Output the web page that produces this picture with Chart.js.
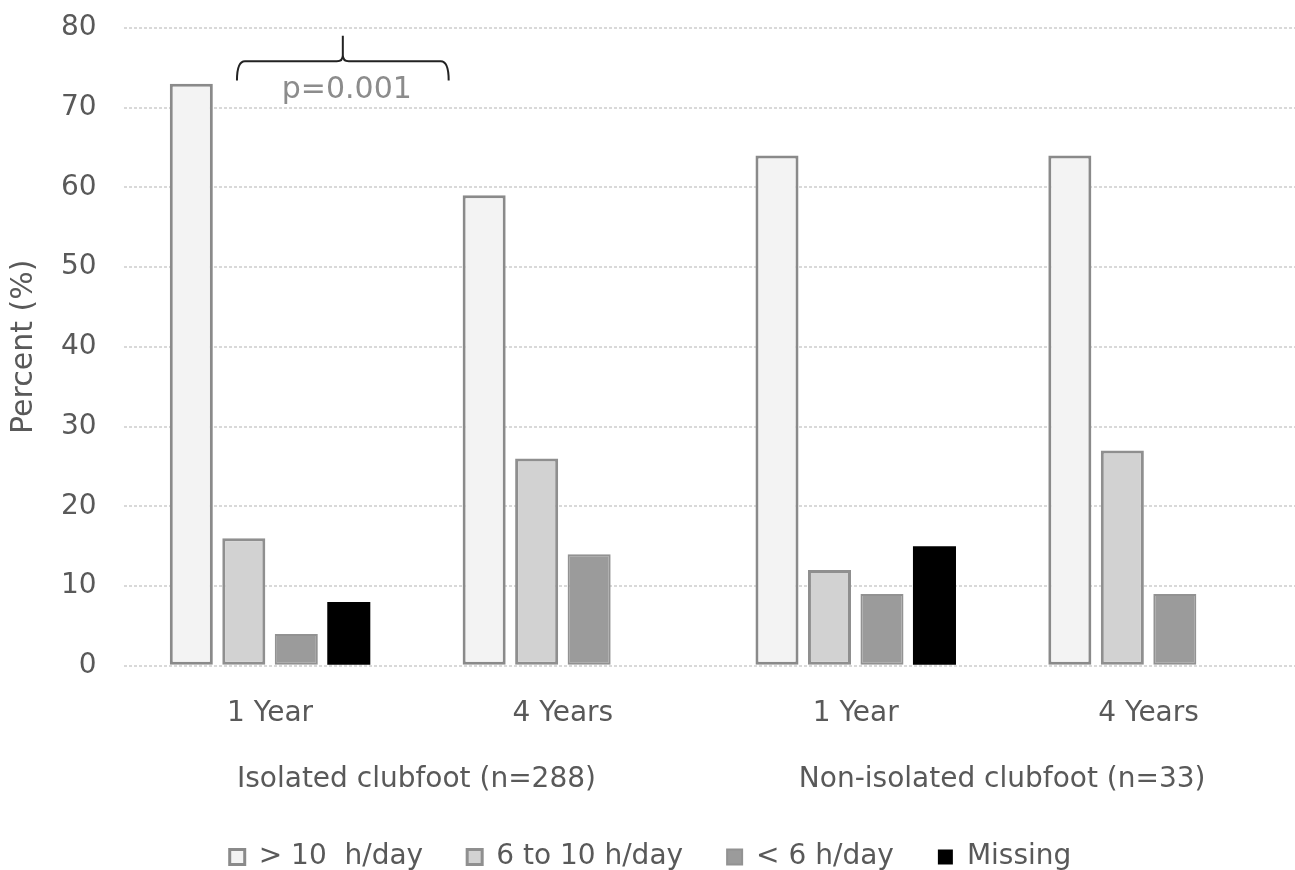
<!DOCTYPE html>
<html>
<head>
<meta charset="utf-8">
<script src="https://cdn.jsdelivr.net/npm/chart.js@4/dist/chart.umd.min.js"></script>
<style>
  html, body { margin: 0; padding: 0; background: #fff; }
  #wrap { width: 1295px; height: 870px; }
</style>
</head>
<body>
<div id="wrap"><canvas id="chart"></canvas></div>
<script>
// ================= DATA =================
const timepoints = ["1 Year", "4 Years", "1 Year", "4 Years"];
const groups = ["Isolated clubfoot (n=288)", "Non-isolated clubfoot (n=33)"];
const over10 = [73, 59, 64, 64];
const from6to10 = [16, 26, 12, 27];
const under6 = [4, 14, 9, 9];
const missing = [8, null, 15, null];
const yTicks = [0, 10, 20, 30, 40, 50, 60, 70, 80];
const pLabel = "p=0.001";

const FONT = "'DejaVu Sans', sans-serif";
const TEXT = "#595959";

// ================= BRACKET PLUGIN =================
const bracketPlugin = {
  id: "bracket",
  afterDatasetsDraw(chart) {
    const { ctx, scales } = chart;
    const x = scales.x, y = scales.y;
    const c0 = x.getPixelForValue(0);
    const w = x.getPixelForValue(1) - c0;
    const left = c0 - 0.113 * w;
    const right = c0 + 0.61 * w;
    const mid = (left + right) / 2;
    const yBar = y.getPixelForValue(75.8);
    const yEnd = y.getPixelForValue(73.4);
    const yTop = y.getPixelForValue(79.0);

    ctx.save();
    ctx.strokeStyle = "#222";
    ctx.lineWidth = 2;
    ctx.beginPath();
    ctx.moveTo(left, yEnd);
    ctx.quadraticCurveTo(left, yBar, left + 8, yBar);
    ctx.lineTo(mid - 6, yBar);
    ctx.quadraticCurveTo(mid, yBar, mid, yBar - 6);
    ctx.lineTo(mid, yTop);
    ctx.moveTo(mid, yBar - 6);
    ctx.quadraticCurveTo(mid, yBar, mid + 6, yBar);
    ctx.lineTo(right - 8, yBar);
    ctx.quadraticCurveTo(right, yBar, right, yEnd);
    ctx.stroke();

    ctx.fillStyle = "#8c8c8c";
    ctx.font = "30px " + FONT;
    ctx.textAlign = "center";
    ctx.textBaseline = "middle";
    ctx.fillText(pLabel, mid + 4, y.getPixelForValue(72.2));
    ctx.restore();
  }
};

// ================= CHART =================
function series(label, data, fill, border, bw) {
  return {
    label,
    data,
    backgroundColor: fill,
    borderColor: border,
    borderWidth: bw,
    borderSkipped: false,
    categoryPercentage: 0.717,
    barPercentage: 0.82
  };
}

const ctx = document.getElementById("chart").getContext("2d");
new Chart(ctx, {
  type: "bar",
  data: {
    labels: timepoints,
    datasets: [
      series("> 10  h/day", over10, "#f3f3f3", "#8a8a8a", 3),
      series("6 to 10 h/day", from6to10, "#d2d2d2", "#8f8f8f", 3),
      series("< 6 h/day", under6, "#9b9b9b", "#929292", 2),
      series("Missing", missing, "#000000", "#000000", 0)
    ]
  },
  options: {
    responsive: true,
    maintainAspectRatio: false,
    animation: false,
    layout: { padding: { top: 0, left: 6, right: 0, bottom: -11 } },
    plugins: {
      tooltip: { enabled: false },
      legend: {
        position: "bottom",
        labels: {
          font: { family: FONT, size: 28 },
          color: TEXT,
          boxWidth: 15,
          boxHeight: 15,
          padding: 44
        }
      }
    },
    scales: {
      x: {
        grid: { display: false, drawTicks: false },
        border: { display: false },
        ticks: {
          font: { family: FONT, size: 28 },
          color: TEXT,
          padding: 31
        }
      },
      x2: {
        type: "category",
        position: "bottom",
        labels: groups,
        offset: true,
        grid: { display: false, drawTicks: false },
        border: { display: false },
        ticks: {
          font: { family: FONT, size: 28 },
          color: TEXT,
          padding: 2
        }
      },
      y: {
        min: 0,
        max: 80,
        afterBuildTicks(axis) {
          axis.ticks = yTicks.map(v => ({ value: v }));
        },
        grid: {
          color: "#d9d9d9",
          lineWidth: 2,
          drawTicks: true,
          tickLength: 16,
          tickColor: "rgba(0,0,0,0)"
        },
        border: { display: false, dash: [3, 2] },
        ticks: {
          font: { family: FONT, size: 28 },
          color: TEXT,
          padding: 11
        },
        title: {
          display: true,
          text: "Percent (%)",
          font: { family: FONT, size: 30 },
          color: TEXT,
          padding: { top: 0, bottom: 8 }
        }
      }
    }
  },
  plugins: [bracketPlugin]
});
</script>
</body>
</html>
